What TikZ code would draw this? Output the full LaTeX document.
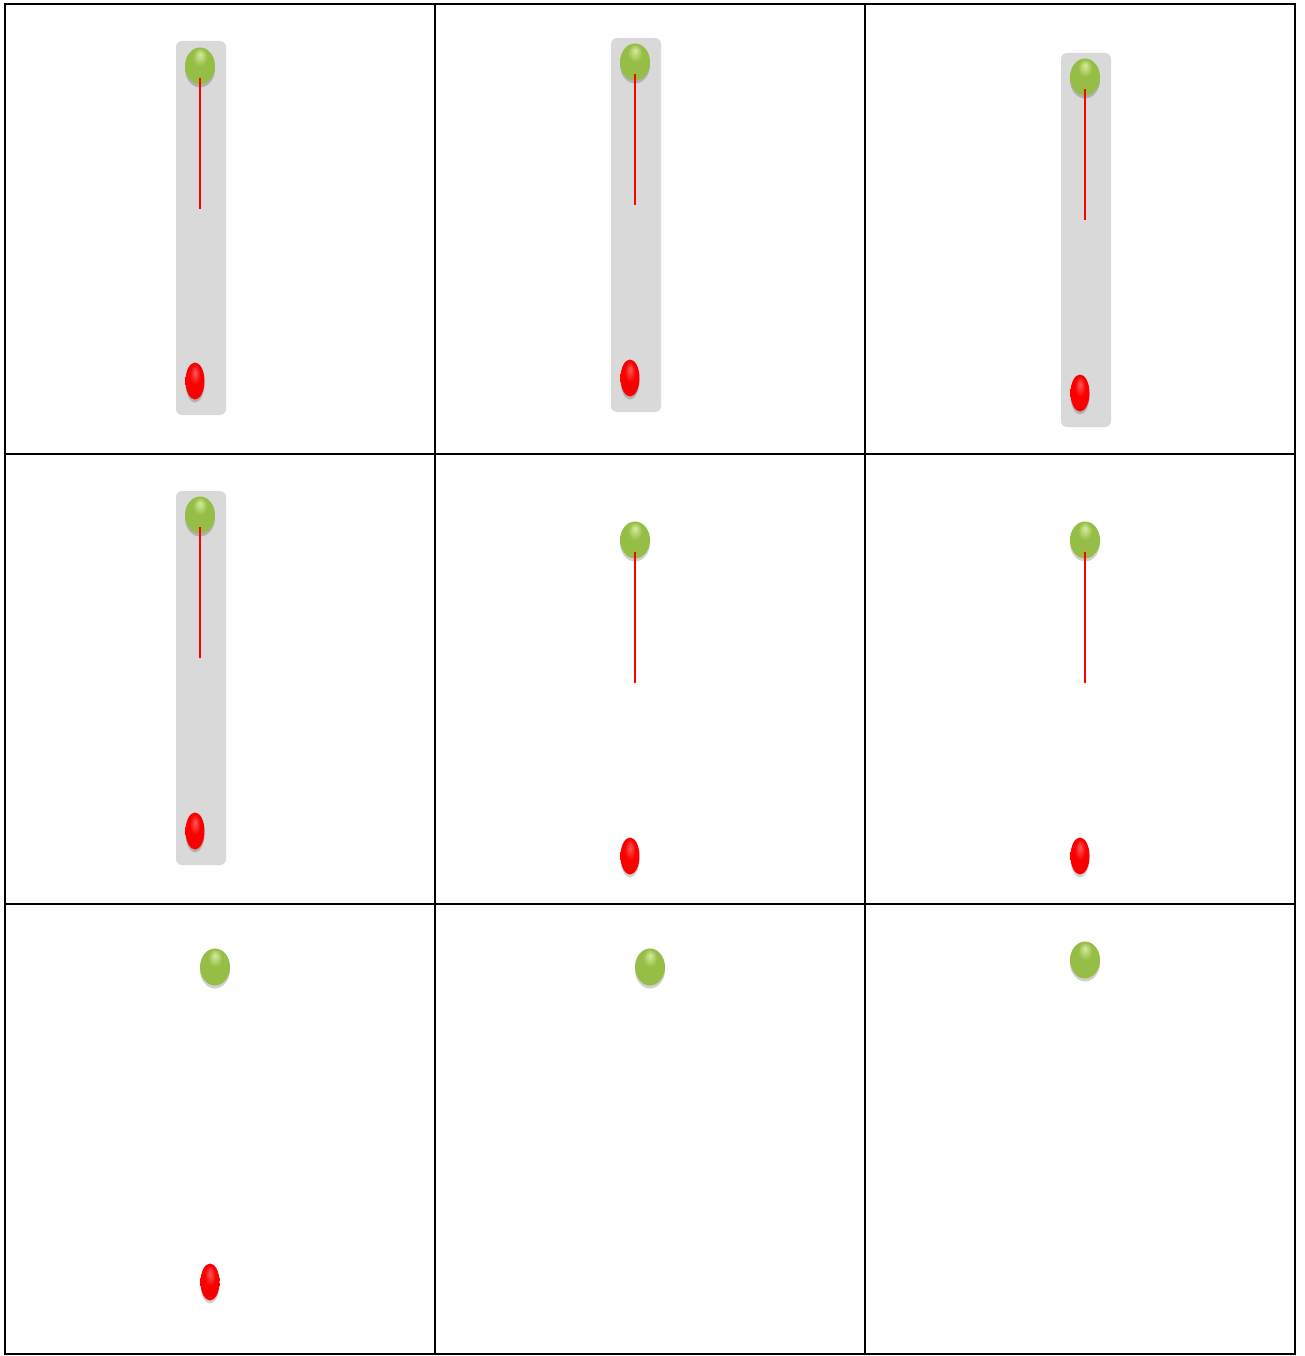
\documentclass[tikz,border=0pt]{standalone}
\usetikzlibrary{shapes.geometric,shadows}
\definecolor{gl}{RGB}{215,235,160}
\definecolor{gm}{RGB}{150,190,70}
\definecolor{gd}{RGB}{95,130,35}
\definecolor{rl}{RGB}{255,90,90}
\definecolor{rm}{RGB}{250,0,0}
\definecolor{rd}{RGB}{175,0,0}
\definecolor{panel}{RGB}{217,217,217}
\pgfdeclareradialshading{greenball}{\pgfpoint{0bp}{16bp}}{color(0bp)=(gl); color(12bp)=(gm); color(30bp)=(gm); color(42bp)=(gd); color(50bp)=(gd)}
\pgfdeclareradialshading{redball}{\pgfpoint{0bp}{12bp}}{color(0bp)=(rl); color(14bp)=(rm); color(32bp)=(rm); color(44bp)=(rd); color(50bp)=(rd)}
\tikzset{
  gball/.style={ellipse, minimum width=30pt, minimum height=37pt, inner sep=0pt, draw=none, shading=greenball,
    drop shadow={shadow xshift=0pt, shadow yshift=-3pt, opacity=0.18, fill=black}},
  rball/.style={ellipse, minimum width=19pt, minimum height=37pt, inner sep=0pt, draw=none, shading=redball,
    drop shadow={shadow xshift=0pt, shadow yshift=-3pt, opacity=0.18, fill=black}},
  panelbox/.style={fill=panel, rounded corners=6pt, draw=none},
  rodline/.style={draw=red, line width=1.8pt},
  gridline/.style={draw=black, line width=2pt}
}
\begin{document}
\begin{tikzpicture}[x=1pt,y=-1pt]
\useasboundingbox (0,0) rectangle (1305,1356);
\fill[white] (0,0) rectangle (1305,1356);
% panels
\fill[panelbox] (176,41) rectangle (226,415);
\fill[panelbox] (611,38) rectangle (661,412);
\fill[panelbox] (1061,53) rectangle (1111,427);
\fill[panelbox] (176,491) rectangle (226,865);
% cell 1
\node[gball] (g1) at (200,66) {};
\node[rball] (r1) at (195,381) {};
\coordinate (e1) at (200,209);
\draw[rodline] ([yshift=-12pt]g1.center) -- (e1);
% cell 2
\node[gball] (g2) at (635,62) {};
\node[rball] (r2) at (630,378) {};
\coordinate (e2) at (635,205);
\draw[rodline] ([yshift=-12pt]g2.center) -- (e2);
% cell 3
\node[gball] (g3) at (1085,77) {};
\node[rball] (r3) at (1080,393) {};
\coordinate (e3) at (1085,220);
\draw[rodline] ([yshift=-12pt]g3.center) -- (e3);
% cell 4
\node[gball] (g4) at (200,515) {};
\node[rball] (r4) at (195,831) {};
\coordinate (e4) at (200,658);
\draw[rodline] ([yshift=-12pt]g4.center) -- (e4);
% cell 5
\node[gball] (g5) at (635,540) {};
\node[rball] (r5) at (630,856) {};
\coordinate (e5) at (635,683);
\draw[rodline] ([yshift=-12pt]g5.center) -- (e5);
% cell 6
\node[gball] (g6) at (1085,540) {};
\node[rball] (r6) at (1080,856) {};
\coordinate (e6) at (1085,683);
\draw[rodline] ([yshift=-12pt]g6.center) -- (e6);
% cell 7
\node[gball] (g7) at (215,967) {};
\node[rball] (r7) at (210,1282) {};
% cell 8
\node[gball] (g8) at (650,967) {};
% cell 9
\node[gball] (g9) at (1085,960) {};
% grid
\draw[gridline] (5,4) rectangle (1295,1354);
\draw[gridline] (435,4) -- (435,1354);
\draw[gridline] (865,4) -- (865,1354);
\draw[gridline] (5,454) -- (1295,454);
\draw[gridline] (5,904) -- (1295,904);
\end{tikzpicture}
\end{document}
